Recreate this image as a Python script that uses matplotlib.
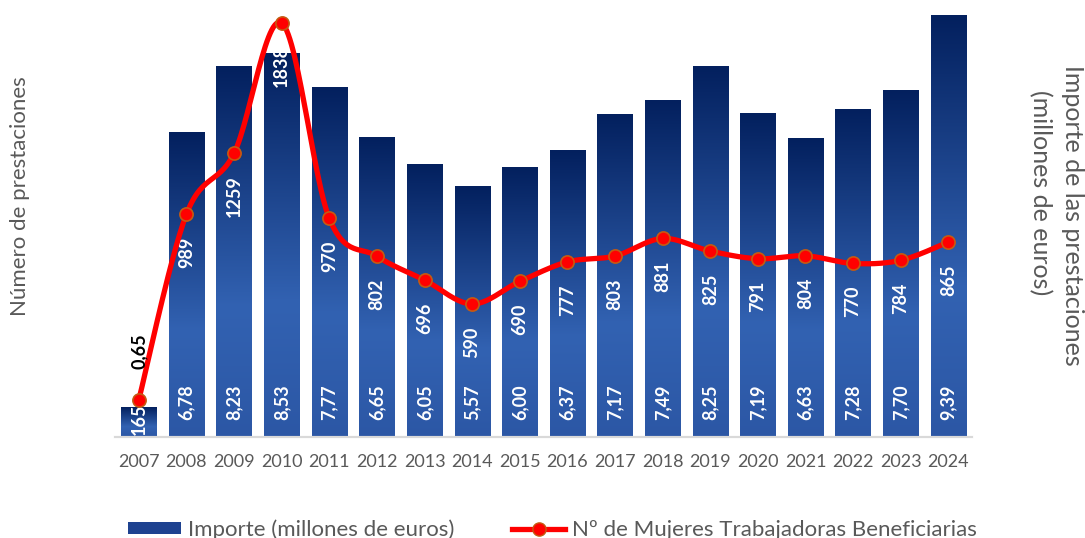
import numpy as np
import matplotlib
matplotlib.use("Agg")
import matplotlib.pyplot as plt
from matplotlib.colors import LinearSegmentedColormap
from matplotlib.patches import Patch
from matplotlib.lines import Line2D

plt.rcParams['font.family'] = ['Lato', 'DejaVu Sans']

years = [str(y) for y in range(2007, 2025)]
importe = [0.65, 6.78, 8.23, 8.53, 7.77, 6.65, 6.05, 5.57, 6.00, 6.37,
           7.17, 7.49, 8.25, 7.19, 6.63, 7.28, 7.70, 9.39]
mujeres = [165, 989, 1259, 1838, 970, 802, 696, 590, 690, 777,
           803, 881, 825, 791, 804, 770, 784, 865]

grey = '#595959'
bar_cmap = LinearSegmentedColormap.from_list(
    'bars', [(0.0, '#2C57A5'), (0.35, '#3262B2'), (1.0, '#03205E')])


def smooth_curve(x, y, steps=30):
    # catmull-rom style smoothing, like the spreadsheet "smoothed line"
    x = np.asarray(x, float)
    y = np.asarray(y, float)
    px = np.concatenate([[x[0]], x, [x[-1]]])
    py = np.concatenate([[y[0]], y, [y[-1]]])
    xs, ys = [], []
    t = np.linspace(0, 1, steps)
    for i in range(1, len(px) - 2):
        p0, p1, p2, p3 = (np.array([px[j], py[j]]) for j in range(i - 1, i + 3))
        c1 = p1 + (p2 - p0) / 6
        c2 = p2 - (p3 - p1) / 6
        pts = ((1 - t) ** 3)[:, None] * p1 + (3 * (1 - t) ** 2 * t)[:, None] * c1 \
            + (3 * (1 - t) * t ** 2)[:, None] * c2 + (t ** 3)[:, None] * p2
        xs.extend(pts[:, 0])
        ys.extend(pts[:, 1])
    return xs, ys


fig = plt.figure(figsize=(10.85, 5.38), dpi=100)
ax = fig.add_axes([0.106, 0.188, 0.790, 0.784])
ax2 = ax.twinx()

x = np.arange(len(years))
width = 0.74
grad = np.linspace(0, 1, 256).reshape(-1, 1)
for xi, h in zip(x, importe):
    ax.imshow(grad, cmap=bar_cmap, origin='lower', aspect='auto',
              extent=[xi - width / 2, xi + width / 2, 0, h], zorder=2)

ax.set_xlim(-0.5, len(years) - 0.5)
ax.set_ylim(0, 9.38)
ax2.set_ylim(0, 1873)

# bar value labels
for xi, v in zip(x, importe):
    txt = f"{v:.2f}".replace('.', ',')
    if xi == 0:
        ax2.annotate(txt, (xi, mujeres[0]), xytext=(0, 22), textcoords='offset points',
                     rotation=90, ha='center', va='bottom', fontsize=13,
                     fontweight='bold', color='black', zorder=5)
    else:
        ax.annotate(txt, (xi, 0), xytext=(0, 12), textcoords='offset points',
                    rotation=90, ha='center', va='bottom', fontsize=13,
                    fontweight='bold', color='white', zorder=3)

# line
sx, sy = smooth_curve(x, mujeres)
ax2.plot(sx, sy, color='#FF0000', lw=3.8, zorder=4, solid_capstyle='round')
ax2.plot(x, mujeres, 'o', color='#FF0000', markeredgecolor='#C55A11',
         markeredgewidth=1.2, markersize=9.5, zorder=5)

for xi, v in zip(x, mujeres):
    if xi == 0:
        ax.annotate(str(v), (xi, 0), xytext=(0, 1), textcoords='offset points',
                    rotation=90, ha='center', va='bottom', fontsize=13,
                    fontweight='bold', color='white', zorder=3)
    else:
        ax2.annotate(str(v), (xi, v), xytext=(0, -16), textcoords='offset points',
                     rotation=90, ha='center', va='top', fontsize=13,
                     fontweight='bold', color='white', zorder=3.5)

ax.set_xticks(x)
ax.set_xticklabels(years, fontsize=13, color=grey)
ax.tick_params(axis='x', length=0, pad=12)
ax.set_yticks([])
ax2.set_yticks([])
for a in (ax, ax2):
    for s in ('top', 'left', 'right'):
        a.spines[s].set_visible(False)
    a.spines['bottom'].set_color('#D9D9D9')
    a.spines['bottom'].set_linewidth(1.5)

ax.set_ylabel('Número de prestaciones', fontsize=16, color=grey)
ax.yaxis.set_label_coords(-0.099, 0.571)

# right-hand title, two lines placed separately
ax2.text(1.117, 0.524, 'Importe de las prestaciones', transform=ax2.transAxes,
         rotation=270, ha='center', va='center', fontsize=18, color=grey)
ax2.text(1.079, 0.578, '(millones de euros)', transform=ax2.transAxes,
         rotation=270, ha='center', va='center', fontsize=18, color=grey)

handles = [Patch(facecolor='#1E4290', edgecolor='none'),
           Line2D([], [], color='#FF0000', lw=3.8, marker='o', markersize=9.5,
                  markerfacecolor='#FF0000', markeredgecolor='#C55A11')]
labels = ['Importe (millones de euros)', 'Nº de Mujeres Trabajadoras Beneficiarias']
fig.legend(handles, labels, loc='lower center', bbox_to_anchor=(0.509, -0.04),
           ncol=2, frameon=False, fontsize=16, labelcolor=grey,
           handlelength=2.4, handleheight=0.45, handletextpad=0.3, columnspacing=2.6)

fig.savefig('out.png', dpi=100)
